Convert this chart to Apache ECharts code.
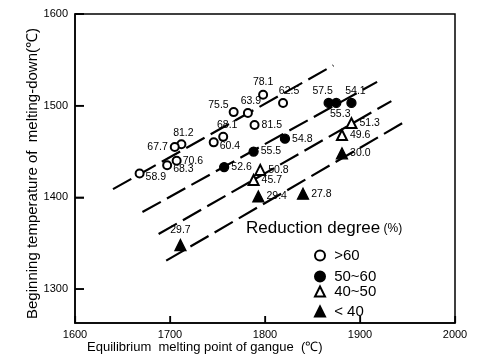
<!DOCTYPE html>
<html>
<head>
<meta charset="utf-8">
<script src="https://cdn.jsdelivr.net/npm/echarts@6/dist/echarts.min.js"></script>
<style>
html,body{margin:0;padding:0;background:#fff;}
#chart{width:483px;height:360px;}
</style>
</head>
<body>
<div id="chart"></div>
<script>
// ---- data ----
// Reduction degree > 60 %
const over60X   = [1798, 1767, 1782, 1789, 1756, 1746, 1712, 1705, 1707, 1697, 1668, 1819];
const over60Y   = [1512, 1493, 1492, 1479, 1466, 1460, 1458, 1455, 1440, 1435, 1426, 1503];
const over60Deg = ['78.1','75.5','63.9','81.5','68.1','60.4','81.2','67.7','70.6','68.3','58.9','62.5'];
// 50 - 60 %
const mid5060X   = [1788, 1757, 1821, 1867, 1875, 1891];
const mid5060Y   = [1450, 1433, 1464, 1503, 1503, 1503];
const mid5060Deg = ['55.5','52.6','54.8','57.5','55.3','54.1'];
// 40 - 50 %
const mid4050X   = [1891, 1881, 1795, 1788];
const mid4050Y   = [1481, 1468, 1430, 1419];
const mid4050Deg = ['51.3','49.6','50.8','45.7'];
// < 40 %
const under40X   = [1881, 1793, 1840, 1711];
const under40Y   = [1448, 1401, 1404, 1348];
const under40Deg = ['30.0','29.4','27.8','29.7'];
// trend lines: [x1, y1, x2, y2]
const trendLine1 = [1640, 1409, 1872, 1544];
const trendLine2 = [1671, 1384, 1918, 1526];
const trendLine3 = [1688, 1360, 1933, 1505];
const trendLine4 = [1696, 1331, 1948, 1483];
// axis ticks / ranges
const xTicks = [1600, 1700, 1800, 1900, 2000];
const yTicks = [1300, 1400, 1500, 1600];
const xRange = [1600, 2000];
const yRange = [1263, 1600];
const seriesNames = ['>60', '50~60', '40~50', '< 40'];

// ---- label placement (style, kept apart from data) ----
const labelPlace = {
  '78.1': ['top', [0, 0]],
  '75.5': ['left', [2, -7]],
  '63.9': ['top', [3, 1]],
  '81.5': ['right', [0, 0]],
  '68.1': ['top', [4, 1]],
  '60.4': ['right', [-1, 4]],
  '81.2': ['top', [2, 1]],
  '67.7': ['left', [0, 0]],
  '70.6': ['right', [-1, 0]],
  '68.3': ['right', [-1, 4]],
  '58.9': ['right', [-1, 4]],
  '62.5': ['top', [6, 1]],
  '57.5': ['top', [-6, 1]],
  '55.3': ['bottom', [4, -1]],
  '54.1': ['top', [4, 1]],
  '29.7': ['top', [0, -1]]
};

function build(xs, ys, degs) {
  return xs.map((x, i) => {
    const pl = labelPlace[degs[i]] || ['right', [0, 0]];
    return { value: [x, ys[i], degs[i]], label: { position: pl[0], offset: pl[1] } };
  });
}

const labelStyle = {
  show: true, formatter: p => p.data.value[2], color: '#000',
  fontFamily: 'Liberation Sans', fontSize: 10.5, distance: 2
};

function scatter(name, symbol, size, xs, ys, degs) {
  return {
    name, type: 'scatter', symbol, symbolSize: size,
    itemStyle: { color: '#000', borderColor: '#000', borderWidth: 1.3, opacity: 1 },
    label: labelStyle,
    data: build(xs, ys, degs), z: 5
  };
}

function trend(t) {
  return {
    type: 'line', data: [[t[0], t[1]], [t[2], t[3]]], symbol: 'none', silent: true,
    lineStyle: { color: '#000', width: 2.2, type: [21, 7] }, z: 3
  };
}

const legendTops = [243, 264, 279, 299];
const legendIcons = ['emptyCircle', 'circle', 'emptyTriangle', 'triangle'];
const plain = v => String(v);

const chart = echarts.init(document.getElementById('chart'), null, { renderer: 'canvas' });
chart.setOption({
  backgroundColor: '#fff',
  animation: false,
  grid: { left: 75, right: 28, top: 14, bottom: 37 },
  xAxis: {
    type: 'value', min: xRange[0], max: xRange[1], interval: 100, z: 10,
    axisLine: { show: true, lineStyle: { color: '#000', width: 1.5 } },
    axisTick: { show: true, inside: true, length: 7, lineStyle: { color: '#000', width: 1.2 } },
    axisLabel: { color: '#000', fontFamily: 'Liberation Sans', fontSize: 11, margin: 6,
      customValues: xTicks, formatter: plain },
    splitLine: { show: false }
  },
  yAxis: {
    type: 'value', min: yRange[0], max: yRange[1], z: 10,
    axisLine: { show: true, lineStyle: { color: '#000', width: 1.5 } },
    axisTick: { show: true, inside: true, length: 9, lineStyle: { color: '#000', width: 1.5 }, customValues: yTicks },
    axisLabel: { color: '#000', fontFamily: 'Liberation Sans', fontSize: 11, margin: 7, customValues: yTicks, formatter: plain },
    splitLine: { show: false }
  },
  legend: seriesNames.map((n, i) => ({
    data: [{ name: n, icon: legendIcons[i] }],
    left: 309, top: legendTops[i], itemWidth: 10, itemHeight: 10, itemGap: 4,
    textStyle: { color: '#000', fontFamily: 'Liberation Sans', fontSize: 15 },
    formatter: nm => ' ' + nm,
    selectedMode: false
  })),
  series: [
    scatter(seriesNames[0], 'emptyCircle', 8, over60X, over60Y, over60Deg),
    scatter(seriesNames[1], 'circle', 9, mid5060X, mid5060Y, mid5060Deg),
    scatter(seriesNames[2], 'emptyTriangle', 10, mid4050X, mid4050Y, mid4050Deg),
    scatter(seriesNames[3], 'triangle', 11, under40X, under40Y, under40Deg),
    trend(trendLine1), trend(trendLine2), trend(trendLine3), trend(trendLine4)
  ]
});

// frame, ticks and titles placed through the chart's own scales
const px = (x, y) => chart.convertToPixel({ gridIndex: 0 }, [x, y]);
const tl = px(xRange[0], yRange[1]);
const br = px(xRange[1], yRange[0]);
const stroke = { stroke: '#000', lineWidth: 1.5 };
const g = [
  { type: 'rect', z: 100, shape: { x: tl[0], y: tl[1], width: br[0] - tl[0], height: br[1] - tl[1] },
    style: { fill: 'none', stroke: '#000', lineWidth: 1.5 }, silent: true }
];
xTicks.forEach(v => { const p = px(v, yRange[0]);
  g.push({ type: 'line', z: 100, silent: true, shape: { x1: p[0], y1: p[1], x2: p[0], y2: p[1] - 7 }, style: stroke }); });
yTicks.forEach(v => { const p = px(xRange[0], v);
  g.push({ type: 'line', z: 100, silent: true, shape: { x1: p[0], y1: p[1], x2: p[0] + 9, y2: p[1] }, style: stroke }); });
g.push({ type: 'text', z: 100, x: 33, y: (tl[1] + br[1]) / 2 + 5, rotation: Math.PI / 2,
  style: { text: 'Beginning temperature of  melting-down(℃)', fontFamily: 'Liberation Sans', fontSize: 15,
    fill: '#000', align: 'center', verticalAlign: 'middle' } });
g.push({ type: 'text', z: 100, left: 246, top: 220,
  style: { text: '{a|Reduction degree}{b| (%)}', rich: {
    a: { fontFamily: 'Liberation Sans', fontSize: 17, fill: '#000' },
    b: { fontFamily: 'Liberation Sans', fontSize: 12, fill: '#000' } } } });
g.push({ type: 'text', z: 100, left: 87, top: 341,
  style: { text: 'Equilibrium  melting point of gangue  (℃)', fontFamily: 'Liberation Sans', fontSize: 13, fill: '#000' } });
chart.setOption({ graphic: g });
</script>
</body>
</html>
